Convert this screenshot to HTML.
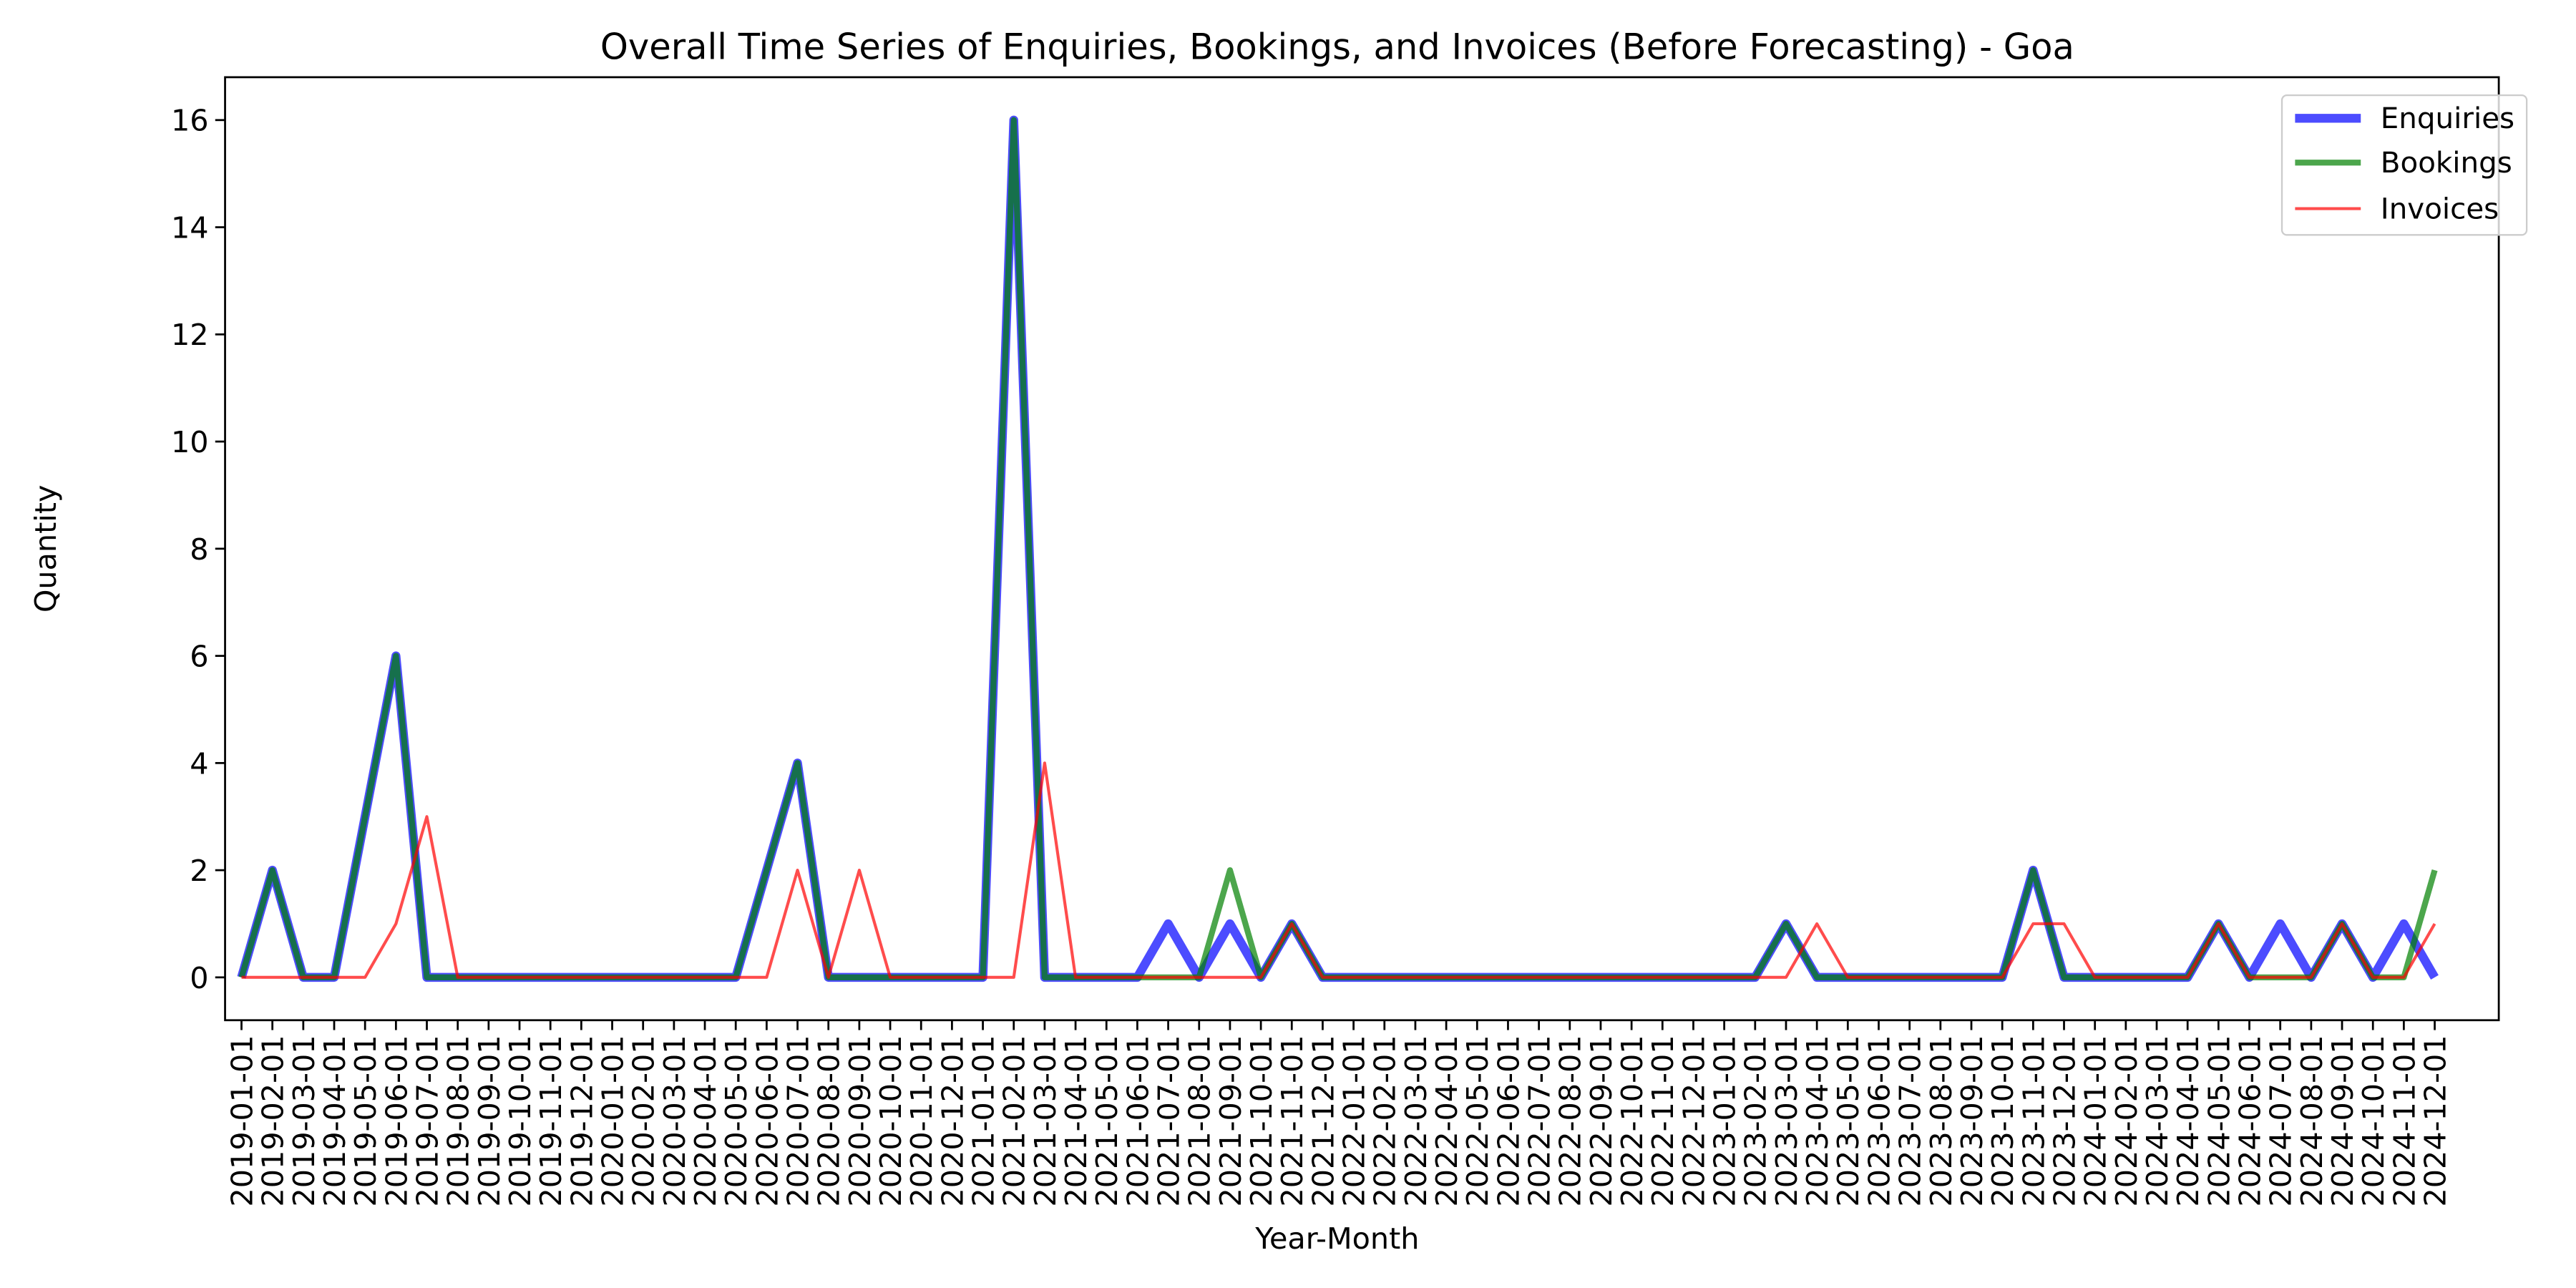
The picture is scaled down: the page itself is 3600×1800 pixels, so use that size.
<!DOCTYPE html>
<html><head><meta charset="utf-8"><style>
html,body{margin:0;padding:0;background:#fff;}
svg{display:block;font-family:"DejaVu Sans","Liberation Sans",sans-serif;}
</style></head><body>
<svg id="chart" width="3600" height="1800" viewBox="0 0 1568 784" xmlns="http://www.w3.org/2000/svg">
<rect x="0" y="0" width="1568" height="784" fill="#fff"/>
<text x="814" y="36" font-size="21.6" text-anchor="middle">Overall Time Series of Enquiries, Bookings, and Invoices (Before Forecasting) - Goa</text>
<g id="plot"></g>
<text x="814" y="760" font-size="18" text-anchor="middle">Year-Month</text>
<text x="34" y="334" font-size="18" text-anchor="middle" transform="rotate(-90 34 334)">Quantity</text>
<g>
<rect x="1389" y="58" width="149" height="85" rx="3" fill="#fff" fill-opacity="0.8" stroke="#ccc" stroke-width="1"/>
<line x1="1397" y1="72" x2="1437" y2="72" stroke="#0000ff" stroke-opacity="0.7" stroke-width="5.4"/>
<text x="1449" y="78" font-size="17.6">Enquiries</text>
<line x1="1397" y1="99" x2="1437" y2="99" stroke="#008000" stroke-opacity="0.7" stroke-width="3.6"/>
<text x="1449" y="105" font-size="17.6">Bookings</text>
<line x1="1397" y1="127" x2="1437" y2="127" stroke="#ff0000" stroke-opacity="0.7" stroke-width="1.8"/>
<text x="1449" y="133" font-size="17.6">Invoices</text>
</g>
</svg>
<script>
const months = [];
for (let y = 2019; y <= 2024; y++) for (let m = 1; m <= 12; m++) months.push(y + '-' + String(m).padStart(2,'0') + '-01');
const enquiries = [0,2,0,0,3,6,0,0,0,0,0,0, 0,0,0,0,0,2,4,0,0,0,0,0, 0,16,0,0,0,0,1,0,1,0,1,0, 0,0,0,0,0,0,0,0,0,0,0,0, 0,0,1,0,0,0,0,0,0,0,2,0, 0,0,0,0,1,0,1,0,1,0,1,0];
const bookings  = [0,2,0,0,3,6,0,0,0,0,0,0, 0,0,0,0,0,2,4,0,0,0,0,0, 0,16,0,0,0,0,0,0,2,0,1,0, 0,0,0,0,0,0,0,0,0,0,0,0, 0,0,1,0,0,0,0,0,0,0,2,0, 0,0,0,0,1,0,0,0,1,0,0,2];
const invoices  = [0,0,0,0,0,1,3,0,0,0,0,0, 0,0,0,0,0,0,2,0,2,0,0,0, 0,0,4,0,0,0,0,0,0,0,1,0, 0,0,0,0,0,0,0,0,0,0,0,0, 0,0,0,1,0,0,0,0,0,0,1,1, 0,0,0,0,1,0,0,0,1,0,0,1];
const yTicks = [0,2,4,6,8,10,12,14,16];

const L=137,R=1521,T=47,B=621, yMin=-0.8, yMax=16.8;
const n = months.length;
const pad = (1482-147)/(n-1);
const x0 = 147;
function xs(i){ return x0 + i*pad; }
function ys(v){ return B - (v - yMin)/(yMax - yMin)*(B - T); }

const NS='http://www.w3.org/2000/svg';
const g=document.getElementById('plot');
function mk(tag, attrs){ const e=document.createElementNS(NS,tag); for(const k in attrs) e.setAttribute(k,attrs[k]); return e; }

const frame = mk('rect',{x:L,y:T,width:R-L,height:B-T,fill:'none',stroke:'#000','stroke-width':1.2});


g.appendChild(frame);

yTicks.forEach(v=>{
  const y=ys(v);
  const t=mk('line',{x1:L-6,y1:y,x2:L,y2:y,stroke:'#000','stroke-width':1.2});
  
  
  g.appendChild(t);
  const lb=mk('text',{x:L-10,y:y+6.5,'font-size':18,'text-anchor':'end'});
  
  
  lb.textContent=v; g.appendChild(lb);
});

months.forEach((m,i)=>{
  const x=xs(i);
  const t=mk('line',{x1:x,y1:B,x2:x,y2:B+6,stroke:'#000','stroke-width':1.2});
  
  
  g.appendChild(t);
  const lb=mk('text',{x:x+6.5,y:B+9,'font-size':18,'text-anchor':'end',transform:'rotate(-90 '+(x+6.5)+' '+(B+9)+')'});
  
  
  lb.textContent=m; g.appendChild(lb);
});

function series(vals,color,w,name){
  const pts=vals.map((v,i)=>xs(i).toFixed(2)+','+ys(v).toFixed(2)).join(' ');
  const p=mk('polyline',{points:pts,fill:'none',stroke:color,'stroke-opacity':0.7,'stroke-width':w,'stroke-linejoin':'round','stroke-linecap':'butt'});
  
  
  g.appendChild(p);
}
series(enquiries,'#0000ff',5.4,'enquiries-line');
series(bookings,'#008000',3.6,'bookings-line');
series(invoices,'#ff0000',1.8,'invoices-line');
</script>
</body></html>
